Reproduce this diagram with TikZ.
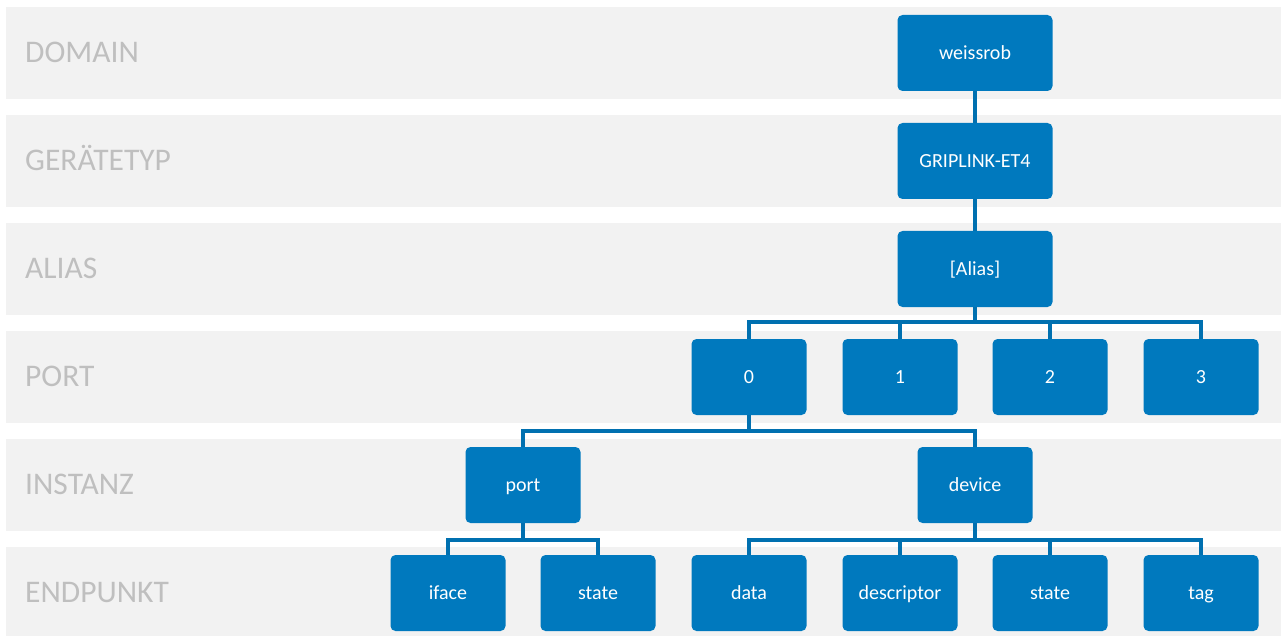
\documentclass[tikz,border=0pt]{standalone}
\usepackage{fontspec}
\setmainfont{Carlito}
\definecolor{bandgray}{HTML}{F2F2F2}
\definecolor{labelgray}{HTML}{BFBFBF}
\definecolor{nodeblue}{HTML}{0079BE}
\definecolor{lineblue}{HTML}{0070B0}
\begin{document}
\begin{tikzpicture}[x=1pt,y=-1pt,
  band/.style={fill=bandgray,draw=none},
  bandlabel/.style={anchor=base west,text=labelgray,font=\fontsize{31.5}{36}\selectfont,inner sep=0pt},
  box/.style={fill=nodeblue,draw=none,rounded corners=5pt,minimum width=115pt,minimum height=76pt,text=white,font=\fontsize{20}{24}\selectfont,inner sep=0pt,text height=17pt,text depth=4pt},
  widebox/.style={box,minimum width=155pt},
  conn/.style={draw=lineblue,line width=4.5pt}]
\useasboundingbox (0,0) rectangle (1281,636);
% bands
\foreach \k in {0,...,5}{
  \fill[bandgray] (6,7+108*\k) rectangle (1281,99+108*\k);
}
\node[bandlabel] (lD) at (25,62.5) {DOMAIN};
\node[bandlabel] (lG) at (25,170.5) {GERÄTETYP};
\node[bandlabel] (lA) at (25,278.5) {ALIAS};
\node[bandlabel] (lP) at (25,386.5) {PORT};
\node[bandlabel] (lI) at (25,494.5) {INSTANZ};
\node[bandlabel] (lE) at (25,602.5) {ENDPUNKT};
% nodes
\node[widebox] (dom) at (975,53) {weissrob};
\node[widebox] (typ) at (975,161) {GRIPLINK-ET4};
\node[widebox] (ali) at (975,269) {[Alias]};
\node[box] (p0) at (749,377) {0};
\node[box] (p1) at (900,377) {1};
\node[box] (p2) at (1050,377) {2};
\node[box] (p3) at (1201,377) {3};
\node[box] (iport) at (523,485) {port};
\node[box] (idev) at (975,485) {device};
\node[box] (eif) at (448,593) {iface};
\node[box] (est) at (598,593) {state};
\node[box] (edata) at (749,593) {data};
\node[box] (edesc) at (900,593) {descriptor};
\node[box] (est2) at (1050,593) {state};
\node[box] (etag) at (1201,593) {tag};
% connectors
\draw[conn] (dom.south) -- (typ.north);
\draw[conn] (typ.south) -- (ali.north);
\foreach \c in {p0,p1,p2,p3}{
  \draw[conn] (ali.south) -- ++(0,15) -| (\c.north);
}
\foreach \c in {iport,idev}{
  \draw[conn] (p0.south) -- ++(0,16) -| (\c.north);
}
\foreach \c in {eif,est}{
  \draw[conn] (iport.south) -- ++(0,17) -| (\c.north);
}
\foreach \c in {edata,edesc,est2,etag}{
  \draw[conn] (idev.south) -- ++(0,17) -| (\c.north);
}
\end{tikzpicture}
\end{document}
